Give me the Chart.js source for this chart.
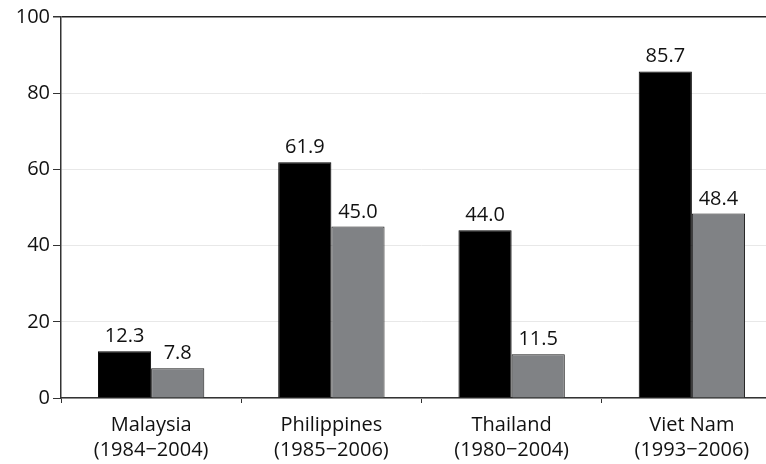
<!DOCTYPE html>
<html>
<head>
<meta charset="utf-8">
<script src="https://cdn.jsdelivr.net/npm/chart.js@4"></script>
<style>
  html, body { margin: 0; padding: 0; background: #fff; }
  #wrap { width: 766px; height: 464px; overflow: hidden; position: relative; }
  #box { width: 782px; height: 473px; }
</style>
</head>
<body>
<div id="wrap"><div id="box"><canvas id="chart"></canvas></div></div>
<script>
const categories = [
  ["Malaysia", "(1984\u22122004)"],
  ["Philippines", "(1985\u22122006)"],
  ["Thailand", "(1980\u22122004)"],
  ["Viet Nam", "(1993\u22122006)"],
];
const seriesA = [12.3, 61.9, 44.0, 85.7];
const seriesB = [7.8, 45.0, 11.5, 48.4];
const yTicks = [0, 20, 40, 60, 80, 100];

const fontFamily = "'Open Sans', 'DejaVu Sans', sans-serif";

// draws the value above each bar
const barLabels = {
  id: "barLabels",
  afterDatasetsDraw(chart) {
    const ctx = chart.ctx;
    ctx.save();
    ctx.font = "20px " + fontFamily;
    ctx.fillStyle = "#111";
    ctx.textAlign = "center";
    ctx.textBaseline = "alphabetic";
    chart.data.datasets.forEach((ds, i) => {
      chart.getDatasetMeta(i).data.forEach((bar, j) => {
        ctx.fillText(ds.data[j].toFixed(1), bar.x, bar.y - 9);
      });
    });
    ctx.restore();
  },
};

new Chart(document.getElementById("chart"), {
  type: "bar",
  data: {
    labels: categories,
    datasets: [
      {
        data: seriesA,
        backgroundColor: "#000000",
        borderColor: "#000000",
        borderWidth: 1,
      },
      {
        data: seriesB,
        backgroundColor: "#808285",
        borderColor: "#1a1a1a",
        borderWidth: 1,
      },
    ],
  },
  options: {
    responsive: true,
    maintainAspectRatio: false,
    animation: false,
    layout: { padding: { top: 17, right: 0, bottom: 0, left: 0 } },
    plugins: { legend: { display: false }, tooltip: { enabled: false } },
    datasets: { bar: { categoryPercentage: 0.59, barPercentage: 1.0 } },
    scales: {
      x: {
        grid: {
          offset: true,
          drawOnChartArea: false,
          tickLength: 5,
          tickColor: "#333",
        },
        border: { color: "#333", width: 1.5 },
        ticks: {
          color: "#111",
          font: { family: fontFamily, size: 20, lineHeight: 1.25 },
          padding: 10,
          maxRotation: 0,
        },
      },
      y: {
        min: 0,
        max: 100,
        afterFit(scale) { scale.width = 61; },
        afterBuildTicks(scale) { scale.ticks = yTicks.map(v => ({ value: v })); },
        grid: {
          color: (c) => (c.tick && c.tick.value === 100 ? "#222" : "#e8e8e8"),
          lineWidth: (c) => (c.tick && c.tick.value === 100 ? 1.5 : 1),
          tickLength: 8,
          tickColor: "#333",
        },
        border: { color: "#333", width: 1.5 },
        ticks: {
          color: "#111",
          font: { family: fontFamily, size: 20 },
          padding: 3,
        },
      },
    },
  },
  plugins: [barLabels],
});
</script>
</body>
</html>
